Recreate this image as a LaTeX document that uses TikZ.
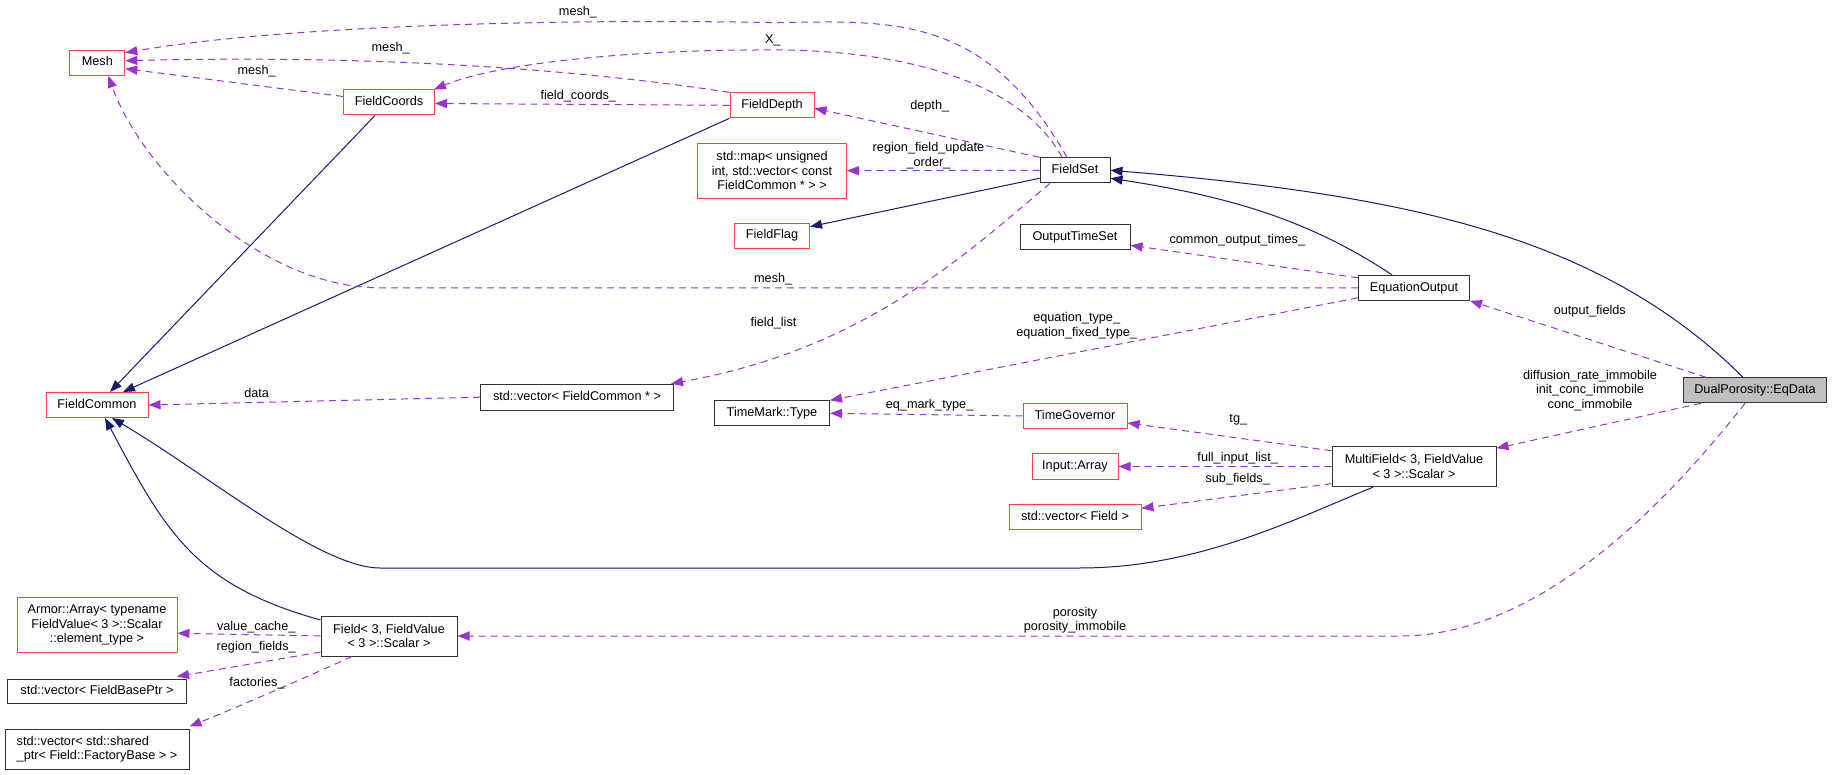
\documentclass[tikz,border=0pt]{standalone}
\usepackage{fontspec}
\setmainfont{Liberation Sans}
\usetikzlibrary{arrows.meta,calc}
\definecolor{navy}{RGB}{25,25,112}
\definecolor{orchid}{RGB}{154,50,205}
\definecolor{boxred}{RGB}{255,64,64}
\newcommand\dox{\fontsize{12.7}{14.5}\selectfont}

\begin{document}
\begin{tikzpicture}[x=1pt,y=-1pt,
  cls/.style={draw=black!80, fill=white, line width=1pt, inner sep=0pt, align=center, font=\dox},
  one/.style={text height=9.3pt, text depth=2.8pt},
  trunc/.style={cls, draw=boxred},
  inh/.style={draw=navy, line width=1pt, -{Triangle[length=12pt,width=9pt]}},
  usage/.style={draw=orchid, line width=1pt, dash pattern=on 7pt off 5pt, -{Triangle[length=12pt,width=9pt]}},
  lbl/.style={font=\dox, align=center, inner sep=0pt}]
\useasboundingbox (0,0) rectangle (1832,775);

% classes
\node[trunc, one, minimum width=55, minimum height=25] (mesh) at (97.3,62.7) {Mesh};
\node[trunc, one, minimum width=91, minimum height=25] (coords) at (389,102.5) {FieldCoords};
\node[trunc, one, minimum width=84, minimum height=25] (depth) at (772,105.3) {FieldDepth};
\node[trunc, minimum width=149, minimum height=55] (map) at (772,170.7) {std::map< unsigned\\ int, std::vector< const\\ FieldCommon * > >};
\node[cls, one, minimum width=70, minimum height=25] (fset) at (1075,170.3) {FieldSet};
\node[trunc, one, minimum width=75, minimum height=25] (flag) at (772,235.7) {FieldFlag};
\node[cls, one, minimum width=110, minimum height=25] (ots) at (1075,237.3) {OutputTimeSet};
\node[cls, one, minimum width=111, minimum height=25] (eqout) at (1414,287.8) {EquationOutput};
\node[cls, one, fill=black!25, minimum width=143, minimum height=25] (eqdata) at (1755,390.3) {DualPorosity::EqData};
\node[trunc, one, minimum width=102, minimum height=25] (common) at (97,405) {FieldCommon};
\node[cls, one, minimum width=193, minimum height=26] (veccommon) at (577,397.2) {std::vector< FieldCommon * >};
\node[cls, one, minimum width=115, minimum height=25] (tmark) at (772,413.3) {TimeMark::Type};
\node[trunc, one, minimum width=104, minimum height=25] (tgov) at (1075,416) {TimeGovernor};
\node[trunc, one, minimum width=86, minimum height=25] (inarr) at (1075,466.5) {Input::Array};
\node[trunc, one, minimum width=132, minimum height=25] (vecfield) at (1075,517.3) {std::vector< Field >};
\node[cls, minimum width=164, minimum height=40] (multi) at (1414,466.7) {MultiField< 3, FieldValue\\< 3 >::Scalar >};
\node[cls, minimum width=136, minimum height=40] (field) at (389,636) {Field< 3, FieldValue\\< 3 >::Scalar >};
\node[trunc, minimum width=160, minimum height=55] (armor) at (97,625.2) {Armor::Array< typename\\FieldValue< 3 >::Scalar\\::element\_type >};
\node[cls, one, minimum width=179, minimum height=24] (vecbase) at (97,691) {std::vector< FieldBasePtr >};
\node[cls, align=left, minimum width=184, minimum height=40] (vecshared) at (97,749) {std::vector< std::shared\\\_ptr< Field::FactoryBase > >};

% base classes
\draw[inh] ($(coords.south)+(-14,0)$) -- ($(common.north)+(13,0)$);
\draw[inh] (depth.south west) -- ($(common.north)+(26,0)$);
\draw[inh] ($(fset.west)+(0,8)$) -- ($(flag.east)+(0,-9)$);
\draw[inh] ($(eqdata.north)+(-12,0)$) .. controls (1602,237) and (1410,195) .. (fset.east);
\draw[inh] ($(eqout.north)+(-22,0)$) .. controls (1309,220) and (1230,196.5) .. ($(fset.east)+(0,8)$);
\draw[inh] ($(multi.south)+(-41,0)$) .. controls (1299,517) and (1200,568) .. (1080,568) -- (380,568)
  .. controls (320,568) and (207,474) .. ($(common.south)+(15,0)$);
\draw[inh] ($(field.west)+(0,-16)$) .. controls (195,585) and (166,533) .. ($(common.south)+(8,0)$);

% members
\draw[usage] ($(fset.north)+(-8,0)$) .. controls (987,18) and (900,20) .. (780,22.7)
  .. controls (530,18) and (271.6,27.5) .. ($(mesh.east)+(0,-10)$);
\draw[usage] (depth.north west) .. controls (532,62.6) and (324.6,56) .. ($(mesh.east)+(0,-2)$);
\draw[usage] ($(coords.west)+(0,-6)$) -- ($(mesh.east)+(0,6)$);
\draw[usage] ($(fset.north)+(-13,0)$) .. controls (1020,80) and (900,48) .. (758,50)
  .. controls (640,50) and (500,62) .. ($(coords.north east)+(-1,0)$);
\draw[usage] (depth.west) -- ($(coords.east)+(0,1)$);
\draw[usage] (fset.north west) -- ($(depth.east)+(0,3)$);
\draw[usage] (fset.west) -- (map.east);
\draw[usage] ($(fset.south)+(-25,0)$) .. controls (960,260) and (860,350) .. ($(veccommon.north east)+(-3,0)$);
\draw[usage] (eqout.west) -- (380,287.8) .. controls (260,287.8) and (141.7,169.8) .. ($(mesh.south)+(11,0)$);
\draw[usage] ($(eqout.west)+(0,-10)$) -- ($(ots.east)+(0,8)$);
\draw[usage] ($(eqout.west)+(0,10)$) -- (tmark.north east);
\draw[usage] ($(eqdata.north west)+(23,0)$) -- (eqout.south east);
\draw[usage] ($(eqdata.south west)+(18,0)$) -- ($(multi.north east)+(0,2)$);
\draw[usage] ($(eqdata.south)+(-10,0)$) .. controls (1683,482) and (1550,636) .. (1400,636) -- (field.east);
\draw[usage] (tgov.west) -- (tmark.east);
\draw[usage] ($(multi.west)+(0,-16)$) -- ($(tgov.east)+(0,7)$);
\draw[usage] (multi.west) -- (inarr.east);
\draw[usage] ($(multi.west)+(0,17)$) -- ($(vecfield.east)+(0,-9)$);
\draw[usage] (veccommon.west) -- (common.east);
\draw[usage] (field.west) -- ($(armor.east)+(0,8)$);
\draw[usage] ($(field.west)+(0,16)$) -- ($(vecbase.north east)+(-10,-2)$);
\draw[usage] ($(field.south)+(-37,0)$) .. controls (300,680) and (240,706) .. ($(vecshared.north east)+(0,-2)$);

% labels
\node[lbl] (l1) at (578,11.7) {mesh\_};
\node[lbl] (l2) at (390.7,47.7) {mesh\_};
\node[lbl] (l3) at (256.6,70.7) {mesh\_};
\node[lbl] (l4) at (772.8,40.7) {X\_};
\node[lbl] (l5) at (578.3,96) {field\_coords\_};
\node[lbl] (l6) at (929.7,106.7) {depth\_};
\node[lbl] (l7) at (928.5,155.5) {region\_field\_update\\\_order\_};
\node[lbl] (l8) at (773.5,323.3) {field\_list};
\node[lbl] (l9) at (773.2,279.3) {mesh\_};
\node[lbl] (l10) at (1237.3,240.7) {common\_output\_times\_};
\node[lbl] (l11) at (1076.7,325.8) {equation\_type\_\\equation\_fixed\_type\_};
\node[lbl] (l12) at (1589.8,311.7) {output\_fields};
\node[lbl] (l13) at (1590,390.3) {diffusion\_rate\_immobile\\init\_conc\_immobile\\conc\_immobile};
\node[lbl] (l14) at (1075,620.2) {porosity\\porosity\_immobile};
\node[lbl] (l15) at (929.6,405) {eq\_mark\_type\_};
\node[lbl] (l16) at (1238.3,420) {tg\_};
\node[lbl] (l17) at (1237.7,458.3) {full\_input\_list\_};
\node[lbl] (l18) at (1237.7,478.7) {sub\_fields\_};
\node[lbl] (l19) at (256.7,392.7) {data};
\node[lbl] (l20) at (256.2,626.7) {value\_cache\_};
\node[lbl] (l21) at (256.2,647.7) {region\_fields\_};
\node[lbl] (l22) at (257,682.7) {factories\_};
\end{tikzpicture}
\end{document}
